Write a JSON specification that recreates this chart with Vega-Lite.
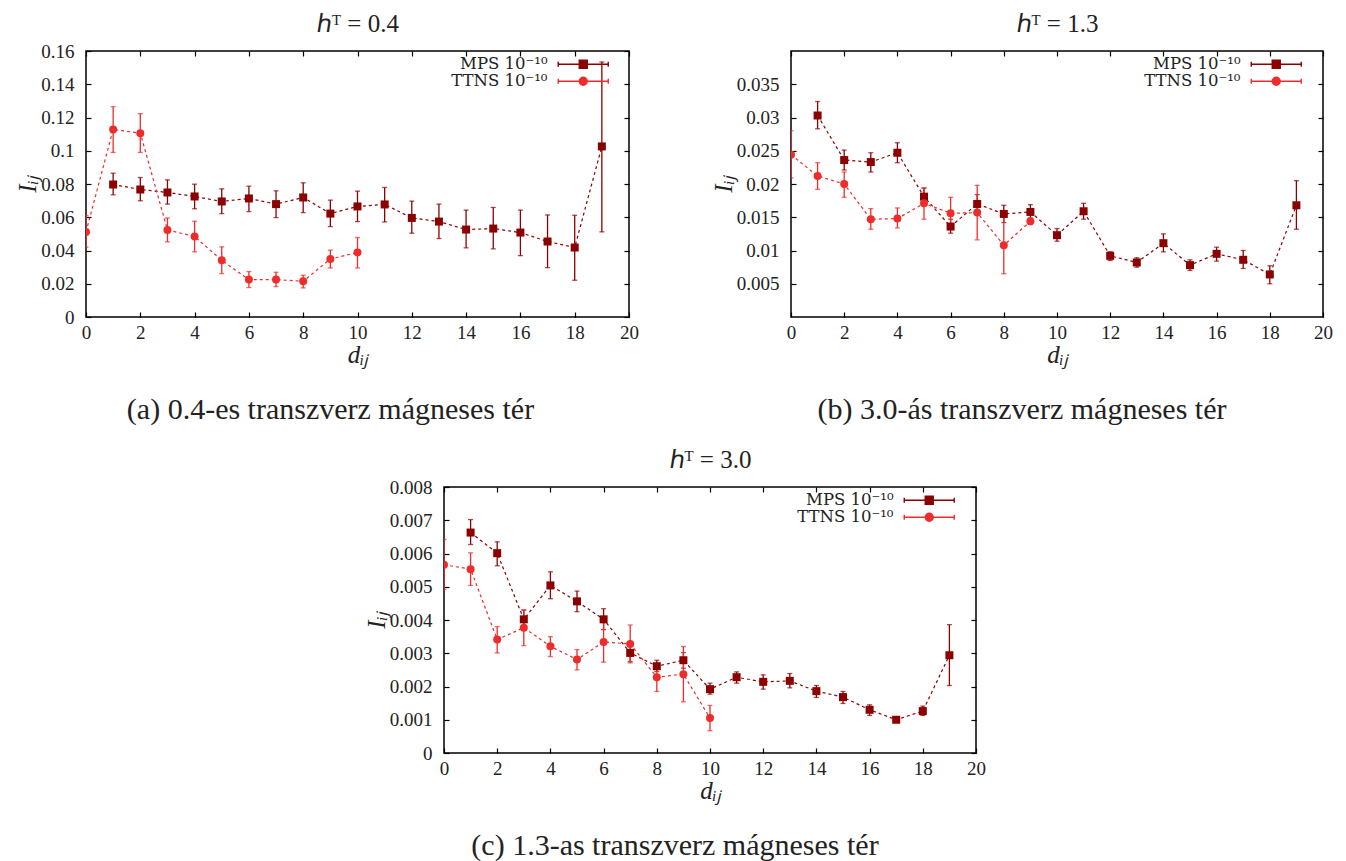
{
  "$schema": "https://vega.github.io/schema/vega-lite/v6.json",
  "background": "white",
  "padding": {"left": 15, "top": 10, "right": 0, "bottom": 0},
  "datasets": {
    "pts": [
      {"panel": "a", "method": "MPS 10⁻¹⁰", "d": 1, "I": 0.0797, "lo": 0.0735, "hi": 0.0865},
      {"panel": "a", "method": "MPS 10⁻¹⁰", "d": 2, "I": 0.0767, "lo": 0.0699, "hi": 0.0839},
      {"panel": "a", "method": "MPS 10⁻¹⁰", "d": 3, "I": 0.0749, "lo": 0.0679, "hi": 0.0825},
      {"panel": "a", "method": "MPS 10⁻¹⁰", "d": 4, "I": 0.0725, "lo": 0.0651, "hi": 0.0799},
      {"panel": "a", "method": "MPS 10⁻¹⁰", "d": 5, "I": 0.0695, "lo": 0.0622, "hi": 0.0771},
      {"panel": "a", "method": "MPS 10⁻¹⁰", "d": 6, "I": 0.0713, "lo": 0.0634, "hi": 0.0787},
      {"panel": "a", "method": "MPS 10⁻¹⁰", "d": 7, "I": 0.0679, "lo": 0.0598, "hi": 0.0759},
      {"panel": "a", "method": "MPS 10⁻¹⁰", "d": 8, "I": 0.0719, "lo": 0.0628, "hi": 0.0807},
      {"panel": "a", "method": "MPS 10⁻¹⁰", "d": 9, "I": 0.0622, "lo": 0.0544, "hi": 0.0703},
      {"panel": "a", "method": "MPS 10⁻¹⁰", "d": 10, "I": 0.0665, "lo": 0.0574, "hi": 0.0757},
      {"panel": "a", "method": "MPS 10⁻¹⁰", "d": 11, "I": 0.0677, "lo": 0.0572, "hi": 0.0779},
      {"panel": "a", "method": "MPS 10⁻¹⁰", "d": 12, "I": 0.0596, "lo": 0.0504, "hi": 0.0697},
      {"panel": "a", "method": "MPS 10⁻¹⁰", "d": 13, "I": 0.0574, "lo": 0.0472, "hi": 0.0679},
      {"panel": "a", "method": "MPS 10⁻¹⁰", "d": 14, "I": 0.0526, "lo": 0.0416, "hi": 0.0643},
      {"panel": "a", "method": "MPS 10⁻¹⁰", "d": 15, "I": 0.0532, "lo": 0.041, "hi": 0.0659},
      {"panel": "a", "method": "MPS 10⁻¹⁰", "d": 16, "I": 0.0508, "lo": 0.0369, "hi": 0.0643},
      {"panel": "a", "method": "MPS 10⁻¹⁰", "d": 17, "I": 0.0454, "lo": 0.0297, "hi": 0.0614},
      {"panel": "a", "method": "MPS 10⁻¹⁰", "d": 18, "I": 0.0418, "lo": 0.0221, "hi": 0.0612},
      {"panel": "a", "method": "MPS 10⁻¹⁰", "d": 19, "I": 0.1026, "lo": 0.0512, "hi": 0.1534},
      {"panel": "a", "method": "TTNS 10⁻¹⁰", "d": 0, "I": 0.0512, "lo": 0.042, "hi": 0.061},
      {"panel": "a", "method": "TTNS 10⁻¹⁰", "d": 1, "I": 0.1128, "lo": 0.099, "hi": 0.1265},
      {"panel": "a", "method": "TTNS 10⁻¹⁰", "d": 2, "I": 0.1106, "lo": 0.099, "hi": 0.1223},
      {"panel": "a", "method": "TTNS 10⁻¹⁰", "d": 3, "I": 0.0524, "lo": 0.0452, "hi": 0.0596},
      {"panel": "a", "method": "TTNS 10⁻¹⁰", "d": 4, "I": 0.0484, "lo": 0.0392, "hi": 0.0576},
      {"panel": "a", "method": "TTNS 10⁻¹⁰", "d": 5, "I": 0.0341, "lo": 0.0261, "hi": 0.0422},
      {"panel": "a", "method": "TTNS 10⁻¹⁰", "d": 6, "I": 0.0225, "lo": 0.0177, "hi": 0.0273},
      {"panel": "a", "method": "TTNS 10⁻¹⁰", "d": 7, "I": 0.0225, "lo": 0.0183, "hi": 0.0269},
      {"panel": "a", "method": "TTNS 10⁻¹⁰", "d": 8, "I": 0.0215, "lo": 0.0175, "hi": 0.0251},
      {"panel": "a", "method": "TTNS 10⁻¹⁰", "d": 9, "I": 0.0349, "lo": 0.0295, "hi": 0.0402},
      {"panel": "a", "method": "TTNS 10⁻¹⁰", "d": 10, "I": 0.0388, "lo": 0.0295, "hi": 0.0478},
      {"panel": "b", "method": "MPS 10⁻¹⁰", "d": 1, "I": 0.0303, "lo": 0.0283, "hi": 0.0324},
      {"panel": "b", "method": "MPS 10⁻¹⁰", "d": 2, "I": 0.0236, "lo": 0.0221, "hi": 0.0251},
      {"panel": "b", "method": "MPS 10⁻¹⁰", "d": 3, "I": 0.0233, "lo": 0.0218, "hi": 0.0247},
      {"panel": "b", "method": "MPS 10⁻¹⁰", "d": 4, "I": 0.0247, "lo": 0.0232, "hi": 0.0262},
      {"panel": "b", "method": "MPS 10⁻¹⁰", "d": 5, "I": 0.0181, "lo": 0.0168, "hi": 0.0194},
      {"panel": "b", "method": "MPS 10⁻¹⁰", "d": 6, "I": 0.0136, "lo": 0.0126, "hi": 0.0147},
      {"panel": "b", "method": "MPS 10⁻¹⁰", "d": 7, "I": 0.017, "lo": 0.0157, "hi": 0.0184},
      {"panel": "b", "method": "MPS 10⁻¹⁰", "d": 8, "I": 0.0155, "lo": 0.0142, "hi": 0.0168},
      {"panel": "b", "method": "MPS 10⁻¹⁰", "d": 9, "I": 0.0158, "lo": 0.0146, "hi": 0.0169},
      {"panel": "b", "method": "MPS 10⁻¹⁰", "d": 10, "I": 0.0123, "lo": 0.0114, "hi": 0.0133},
      {"panel": "b", "method": "MPS 10⁻¹⁰", "d": 11, "I": 0.0159, "lo": 0.0147, "hi": 0.0171},
      {"panel": "b", "method": "MPS 10⁻¹⁰", "d": 12, "I": 0.0092, "lo": 0.0085, "hi": 0.0098},
      {"panel": "b", "method": "MPS 10⁻¹⁰", "d": 13, "I": 0.0082, "lo": 0.0075, "hi": 0.0089},
      {"panel": "b", "method": "MPS 10⁻¹⁰", "d": 14, "I": 0.0111, "lo": 0.0098, "hi": 0.0125},
      {"panel": "b", "method": "MPS 10⁻¹⁰", "d": 15, "I": 0.0078, "lo": 0.007, "hi": 0.0086},
      {"panel": "b", "method": "MPS 10⁻¹⁰", "d": 16, "I": 0.0095, "lo": 0.0084, "hi": 0.0105},
      {"panel": "b", "method": "MPS 10⁻¹⁰", "d": 17, "I": 0.0086, "lo": 0.0073, "hi": 0.01},
      {"panel": "b", "method": "MPS 10⁻¹⁰", "d": 18, "I": 0.0064, "lo": 0.005, "hi": 0.0077},
      {"panel": "b", "method": "MPS 10⁻¹⁰", "d": 19, "I": 0.0168, "lo": 0.0132, "hi": 0.0205},
      {"panel": "b", "method": "TTNS 10⁻¹⁰", "d": 0, "I": 0.0244, "lo": 0.0209, "hi": 0.028},
      {"panel": "b", "method": "TTNS 10⁻¹⁰", "d": 1, "I": 0.0212, "lo": 0.0192, "hi": 0.0232},
      {"panel": "b", "method": "TTNS 10⁻¹⁰", "d": 2, "I": 0.02, "lo": 0.018, "hi": 0.0218},
      {"panel": "b", "method": "TTNS 10⁻¹⁰", "d": 3, "I": 0.0147, "lo": 0.0132, "hi": 0.0163},
      {"panel": "b", "method": "TTNS 10⁻¹⁰", "d": 4, "I": 0.0148, "lo": 0.0134, "hi": 0.0164},
      {"panel": "b", "method": "TTNS 10⁻¹⁰", "d": 5, "I": 0.0171, "lo": 0.0147, "hi": 0.0194},
      {"panel": "b", "method": "TTNS 10⁻¹⁰", "d": 6, "I": 0.0156, "lo": 0.0133, "hi": 0.018},
      {"panel": "b", "method": "TTNS 10⁻¹⁰", "d": 7, "I": 0.0157, "lo": 0.0116, "hi": 0.0198},
      {"panel": "b", "method": "TTNS 10⁻¹⁰", "d": 8, "I": 0.0108, "lo": 0.0065, "hi": 0.0151},
      {"panel": "b", "method": "TTNS 10⁻¹⁰", "d": 9, "I": 0.0144, "lo": 0.0139, "hi": 0.0149},
      {"panel": "c", "method": "MPS 10⁻¹⁰", "d": 1, "I": 0.00663, "lo": 0.00627, "hi": 0.00702},
      {"panel": "c", "method": "MPS 10⁻¹⁰", "d": 2, "I": 0.00601, "lo": 0.00563, "hi": 0.00635},
      {"panel": "c", "method": "MPS 10⁻¹⁰", "d": 3, "I": 0.00402, "lo": 0.00376, "hi": 0.0043},
      {"panel": "c", "method": "MPS 10⁻¹⁰", "d": 4, "I": 0.00504, "lo": 0.00464, "hi": 0.00545},
      {"panel": "c", "method": "MPS 10⁻¹⁰", "d": 5, "I": 0.00456, "lo": 0.00425, "hi": 0.00487},
      {"panel": "c", "method": "MPS 10⁻¹⁰", "d": 6, "I": 0.00402, "lo": 0.00371, "hi": 0.00434},
      {"panel": "c", "method": "MPS 10⁻¹⁰", "d": 7, "I": 0.00301, "lo": 0.00275, "hi": 0.00322},
      {"panel": "c", "method": "MPS 10⁻¹⁰", "d": 8, "I": 0.00261, "lo": 0.00245, "hi": 0.00279},
      {"panel": "c", "method": "MPS 10⁻¹⁰", "d": 9, "I": 0.00279, "lo": 0.00255, "hi": 0.00302},
      {"panel": "c", "method": "MPS 10⁻¹⁰", "d": 10, "I": 0.00192, "lo": 0.00177, "hi": 0.0021},
      {"panel": "c", "method": "MPS 10⁻¹⁰", "d": 11, "I": 0.00228, "lo": 0.0021, "hi": 0.00244},
      {"panel": "c", "method": "MPS 10⁻¹⁰", "d": 12, "I": 0.00214, "lo": 0.00192, "hi": 0.00235},
      {"panel": "c", "method": "MPS 10⁻¹⁰", "d": 13, "I": 0.00217, "lo": 0.00196, "hi": 0.00239},
      {"panel": "c", "method": "MPS 10⁻¹⁰", "d": 14, "I": 0.00186, "lo": 0.00167, "hi": 0.00203},
      {"panel": "c", "method": "MPS 10⁻¹⁰", "d": 15, "I": 0.00168, "lo": 0.00149, "hi": 0.00185},
      {"panel": "c", "method": "MPS 10⁻¹⁰", "d": 16, "I": 0.0013, "lo": 0.00113, "hi": 0.00145},
      {"panel": "c", "method": "MPS 10⁻¹⁰", "d": 17, "I": 0.001, "lo": 0.00092, "hi": 0.00108},
      {"panel": "c", "method": "MPS 10⁻¹⁰", "d": 18, "I": 0.00126, "lo": 0.00113, "hi": 0.00141},
      {"panel": "c", "method": "MPS 10⁻¹⁰", "d": 19, "I": 0.00294, "lo": 0.00203, "hi": 0.00386},
      {"panel": "c", "method": "TTNS 10⁻¹⁰", "d": 0, "I": 0.00566, "lo": 0.00492, "hi": 0.00642},
      {"panel": "c", "method": "TTNS 10⁻¹⁰", "d": 1, "I": 0.00553, "lo": 0.00504, "hi": 0.00602},
      {"panel": "c", "method": "TTNS 10⁻¹⁰", "d": 2, "I": 0.00341, "lo": 0.00301, "hi": 0.0038},
      {"panel": "c", "method": "TTNS 10⁻¹⁰", "d": 3, "I": 0.00377, "lo": 0.00323, "hi": 0.0043},
      {"panel": "c", "method": "TTNS 10⁻¹⁰", "d": 4, "I": 0.00321, "lo": 0.0029, "hi": 0.0035},
      {"panel": "c", "method": "TTNS 10⁻¹⁰", "d": 5, "I": 0.00281, "lo": 0.0025, "hi": 0.00311},
      {"panel": "c", "method": "TTNS 10⁻¹⁰", "d": 6, "I": 0.00334, "lo": 0.00273, "hi": 0.00394},
      {"panel": "c", "method": "TTNS 10⁻¹⁰", "d": 7, "I": 0.00328, "lo": 0.00271, "hi": 0.00385},
      {"panel": "c", "method": "TTNS 10⁻¹⁰", "d": 8, "I": 0.00228, "lo": 0.00185, "hi": 0.00254},
      {"panel": "c", "method": "TTNS 10⁻¹⁰", "d": 9, "I": 0.00237, "lo": 0.00154, "hi": 0.0032},
      {"panel": "c", "method": "TTNS 10⁻¹⁰", "d": 10, "I": 0.00105, "lo": 0.00067, "hi": 0.00143}
    ]
  },
  "bounds": "flush",
  "spacing": 436,
  "resolve": {"scale": {"color": "independent", "shape": "independent"}, "legend": {"color": "independent"}},
  "vconcat": [
    {
      "bounds": "flush",
      "spacing": 162,
      "resolve": {"scale": {"color": "independent", "shape": "independent"}, "legend": {"color": "independent"}},
      "hconcat": [
        {
          "width": 543, "height": 266,
          "title": {"text": "(a) 0.4-es transzverz mágneses tér", "orient": "bottom", "offset": 28, "dx": -27},
          "data": {"name": "pts"},
          "transform": [{"filter": "datum.panel === 'a'"}],
          "layer": [
            {
              "mark": {"type": "errorbar", "ticks": {"size": 5}, "thickness": 1.3, "clip": true},
              "encoding": {
                "x": {"field": "d", "type": "quantitative", "scale": {"domain": [0, 20]}, "axis": {"orient": "bottom", "values": [0,2,4,6,8,10,12,14,16,18,20], "labelFlush": false, "title": "dᵢⱼ", "labelFont": "Liberation Serif", "labelFontSize": 19, "titleFont": "Liberation Serif", "titleFontSize": 25, "titleFontStyle": "italic", "labelPadding": 11, "titlePadding": 0}},
                "y": {"field": "lo", "type": "quantitative", "scale": {"domain": [0, 0.16]}, "axis": {"orient": "left", "values": [0,0.02,0.04,0.06,0.08,0.1,0.12,0.14,0.16], "format": "~f", "title": "Iᵢⱼ", "labelFont": "Liberation Serif", "labelFontSize": 19, "titleFont": "Liberation Serif", "titleFontSize": 25, "titleFontStyle": "italic", "labelPadding": 17, "titlePadding": 0}},
                "y2": {"field": "hi"},
                "color": {"field": "method", "type": "nominal", "scale": {"range": ["#8b0000", "#ee2c2c"]},
                  "legend": {"orient": "none", "legendX": 489, "legendY": 5, "title": null, "padding": 0, "labelAlign": "right", "labelOffset": -44, "symbolSize": 100, "rowPadding": -1,
                    "encode": {"symbols": {"update": {
                      "shape": [{"test": "indexof(datum.value,'MPS')===0", "value": "M-5,0H5M-5,-0.5V0.5M5,-0.5V0.5M-0.8,-0.8H0.8V0.8H-0.8Z"}, {"value": "M-5,0H5M-5,-0.5V0.5M5,-0.5V0.5M0.8,0A0.8,0.8 0 1,1 -0.8,0A0.8,0.8 0 1,1 0.8,0Z"}],
                      "fill": [{"test": "indexof(datum.value,'MPS')===0", "value": "#8b0000"}, {"value": "#ee2c2c"}],
                      "stroke": [{"test": "indexof(datum.value,'MPS')===0", "value": "#8b0000"}, {"value": "#ee2c2c"}],
                      "strokeWidth": {"value": 1.4}, "opacity": {"value": 1}}}}}}
              }
            },
            {
              "mark": {"type": "line", "strokeDash": [3, 3], "strokeWidth": 1.2, "clip": true},
              "encoding": {
                "x": {"field": "d", "type": "quantitative", "axis": {"orient": "top", "values": [0,2,4,6,8,10,12,14,16,18,20], "labels": false, "title": "ℎᵀ = 0.4", "titleFont": "Liberation Serif", "titleFontSize": 25, "titlePadding": 14}},
                "y": {"field": "I", "type": "quantitative", "axis": {"orient": "right", "values": [0,0.02,0.04,0.06,0.08,0.1,0.12,0.14,0.16], "labels": false, "title": null}},
                "color": {"field": "method", "type": "nominal", "legend": null}
              }
            },
            {
              "mark": {"type": "point", "filled": true, "opacity": 1, "size": 64, "clip": true},
              "encoding": {
                "x": {"field": "d", "type": "quantitative", "axis": null},
                "y": {"field": "I", "type": "quantitative", "axis": null},
                "color": {"field": "method", "type": "nominal", "legend": null},
                "shape": {"field": "method", "type": "nominal", "scale": {"range": ["square", "circle"]}, "legend": null}
              }
            }
          ],
          "resolve": {"axis": {"x": "independent", "y": "independent"}}
        },
        {
          "width": 532, "height": 266,
          "title": {"text": "(b) 3.0-ás transzverz mágneses tér", "orient": "bottom", "offset": 28, "dx": -35},
          "data": {"name": "pts"},
          "transform": [{"filter": "datum.panel === 'b'"}],
          "layer": [
            {
              "mark": {"type": "errorbar", "ticks": {"size": 5}, "thickness": 1.3, "clip": true},
              "encoding": {
                "x": {"field": "d", "type": "quantitative", "scale": {"domain": [0, 20]}, "axis": {"orient": "bottom", "values": [0,2,4,6,8,10,12,14,16,18,20], "labelFlush": false, "title": "dᵢⱼ", "labelFont": "Liberation Serif", "labelFontSize": 19, "titleFont": "Liberation Serif", "titleFontSize": 25, "titleFontStyle": "italic", "labelPadding": 11, "titlePadding": 0}},
                "y": {"field": "lo", "type": "quantitative", "scale": {"domain": [0.005, 0.035]}, "axis": {"orient": "left", "values": [0.005,0.01,0.015,0.02,0.025,0.03,0.035], "format": "~f", "title": "Iᵢⱼ", "labelFont": "Liberation Serif", "labelFontSize": 19, "titleFont": "Liberation Serif", "titleFontSize": 25, "titleFontStyle": "italic", "labelPadding": 17, "titlePadding": 0}},
                "y2": {"field": "hi"},
                "color": {"field": "method", "type": "nominal", "scale": {"range": ["#8b0000", "#ee2c2c"]},
                  "legend": {"orient": "none", "legendX": 477, "legendY": 5, "title": null, "padding": 0, "labelAlign": "right", "labelOffset": -44, "symbolSize": 100, "rowPadding": -1,
                    "encode": {"symbols": {"update": {
                      "shape": [{"test": "indexof(datum.value,'MPS')===0", "value": "M-5,0H5M-5,-0.5V0.5M5,-0.5V0.5M-0.8,-0.8H0.8V0.8H-0.8Z"}, {"value": "M-5,0H5M-5,-0.5V0.5M5,-0.5V0.5M0.8,0A0.8,0.8 0 1,1 -0.8,0A0.8,0.8 0 1,1 0.8,0Z"}],
                      "fill": [{"test": "indexof(datum.value,'MPS')===0", "value": "#8b0000"}, {"value": "#ee2c2c"}],
                      "stroke": [{"test": "indexof(datum.value,'MPS')===0", "value": "#8b0000"}, {"value": "#ee2c2c"}],
                      "strokeWidth": {"value": 1.4}, "opacity": {"value": 1}}}}}}
              }
            },
            {
              "mark": {"type": "line", "strokeDash": [3, 3], "strokeWidth": 1.2, "clip": true},
              "encoding": {
                "x": {"field": "d", "type": "quantitative", "axis": {"orient": "top", "values": [0,2,4,6,8,10,12,14,16,18,20], "labels": false, "title": "ℎᵀ = 1.3", "titleFont": "Liberation Serif", "titleFontSize": 25, "titlePadding": 14}},
                "y": {"field": "I", "type": "quantitative", "axis": {"orient": "right", "values": [0.005,0.01,0.015,0.02,0.025,0.03,0.035], "labels": false, "title": null}},
                "color": {"field": "method", "type": "nominal", "legend": null}
              }
            },
            {
              "mark": {"type": "point", "filled": true, "opacity": 1, "size": 64, "clip": true},
              "encoding": {
                "x": {"field": "d", "type": "quantitative", "axis": null},
                "y": {"field": "I", "type": "quantitative", "axis": null},
                "color": {"field": "method", "type": "nominal", "legend": null},
                "shape": {"field": "method", "type": "nominal", "scale": {"range": ["square", "circle"]}, "legend": null}
              }
            }
          ],
          "resolve": {"axis": {"x": "independent", "y": "independent"}}
        }
      ]
    },
    {
      "bounds": "flush",
      "spacing": 0,
      "resolve": {"scale": {"color": "independent", "shape": "independent"}, "legend": {"color": "independent"}},
      "hconcat": [
        {
          "width": 358, "height": 10,
          "view": {"stroke": null},
          "data": {"values": []},
          "mark": {"type": "point", "opacity": 0}
        },
        {
          "width": 532, "height": 266,
          "title": {"text": "(c) 1.3-as transzverz mágneses tér", "orient": "bottom", "offset": 28, "dx": -35},
          "data": {"name": "pts"},
          "transform": [{"filter": "datum.panel === 'c'"}],
          "layer": [
            {
              "mark": {"type": "errorbar", "ticks": {"size": 5}, "thickness": 1.3, "clip": true},
              "encoding": {
                "x": {"field": "d", "type": "quantitative", "scale": {"domain": [0, 20]}, "axis": {"orient": "bottom", "values": [0,2,4,6,8,10,12,14,16,18,20], "labelFlush": false, "title": "dᵢⱼ", "labelFont": "Liberation Serif", "labelFontSize": 19, "titleFont": "Liberation Serif", "titleFontSize": 25, "titleFontStyle": "italic", "labelPadding": 11, "titlePadding": 0}},
                "y": {"field": "lo", "type": "quantitative", "scale": {"domain": [0, 0.008]}, "axis": {"orient": "left", "values": [0,0.001,0.002,0.003,0.004,0.005,0.006,0.007,0.008], "format": "~f", "title": "Iᵢⱼ", "labelFont": "Liberation Serif", "labelFontSize": 19, "titleFont": "Liberation Serif", "titleFontSize": 25, "titleFontStyle": "italic", "labelPadding": 17, "titlePadding": 0}},
                "y2": {"field": "hi"},
                "color": {"field": "method", "type": "nominal", "scale": {"range": ["#8b0000", "#ee2c2c"]},
                  "legend": {"orient": "none", "legendX": 477, "legendY": 5, "title": null, "padding": 0, "labelAlign": "right", "labelOffset": -44, "symbolSize": 100, "rowPadding": -1,
                    "encode": {"symbols": {"update": {
                      "shape": [{"test": "indexof(datum.value,'MPS')===0", "value": "M-5,0H5M-5,-0.5V0.5M5,-0.5V0.5M-0.8,-0.8H0.8V0.8H-0.8Z"}, {"value": "M-5,0H5M-5,-0.5V0.5M5,-0.5V0.5M0.8,0A0.8,0.8 0 1,1 -0.8,0A0.8,0.8 0 1,1 0.8,0Z"}],
                      "fill": [{"test": "indexof(datum.value,'MPS')===0", "value": "#8b0000"}, {"value": "#ee2c2c"}],
                      "stroke": [{"test": "indexof(datum.value,'MPS')===0", "value": "#8b0000"}, {"value": "#ee2c2c"}],
                      "strokeWidth": {"value": 1.4}, "opacity": {"value": 1}}}}}}
              }
            },
            {
              "mark": {"type": "line", "strokeDash": [3, 3], "strokeWidth": 1.2, "clip": true},
              "encoding": {
                "x": {"field": "d", "type": "quantitative", "axis": {"orient": "top", "values": [0,2,4,6,8,10,12,14,16,18,20], "labels": false, "title": "ℎᵀ = 3.0", "titleFont": "Liberation Serif", "titleFontSize": 25, "titlePadding": 14}},
                "y": {"field": "I", "type": "quantitative", "axis": {"orient": "right", "values": [0,0.001,0.002,0.003,0.004,0.005,0.006,0.007,0.008], "labels": false, "title": null}},
                "color": {"field": "method", "type": "nominal", "legend": null}
              }
            },
            {
              "mark": {"type": "point", "filled": true, "opacity": 1, "size": 64, "clip": true},
              "encoding": {
                "x": {"field": "d", "type": "quantitative", "axis": null},
                "y": {"field": "I", "type": "quantitative", "axis": null},
                "color": {"field": "method", "type": "nominal", "legend": null},
                "shape": {"field": "method", "type": "nominal", "scale": {"range": ["square", "circle"]}, "legend": null}
              }
            }
          ],
          "resolve": {"axis": {"x": "independent", "y": "independent"}}
        }
      ]
    }
  ],
  "config": {
    "font": "Liberation Serif",
    "view": {"stroke": "#000", "strokeWidth": 1.5},
    "axis": {"domain": false, "grid": false, "tickColor": "#000", "tickSize": -5, "tickWidth": 1.2,
      "labelFont": "Liberation Serif", "labelFontSize": 19, "labelColor": "#222",
      "titleFont": "Liberation Serif", "titleFontSize": 24, "titleFontWeight": "normal", "titleColor": "#222"},
    "legend": {"labelFont": "DejaVu Serif", "labelFontSize": 16.5, "labelColor": "#222"},
    "title": {"font": "Liberation Serif", "fontSize": 30, "fontWeight": "normal", "color": "#222", "anchor": "middle"}
  }
}
